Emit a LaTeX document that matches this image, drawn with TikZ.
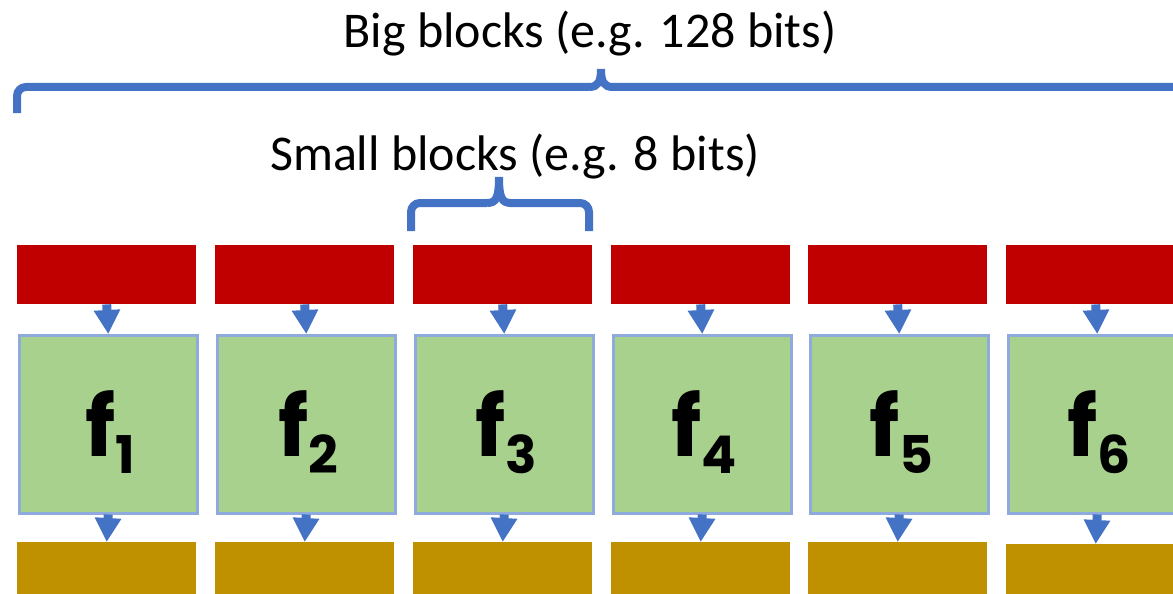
\documentclass[tikz,border=0pt]{standalone}
\usepackage{fontspec}
\setmainfont{Carlito}
\newfontfamily\ffont{Poppins}
\usetikzlibrary{arrows.meta}
\definecolor{bbrace}{HTML}{4472C4}
\definecolor{redbox}{HTML}{C00000}
\definecolor{greenbox}{HTML}{A9D18E}
\definecolor{greenline}{HTML}{8FAADC}
\definecolor{goldbox}{HTML}{BF9000}
\tikzset{
  redblk/.style={rectangle, fill=redbox, inner sep=0pt, minimum width=179pt, minimum height=59pt, anchor=north west},
  fblk/.style={rectangle, fill=greenbox, draw=greenline, line width=2.5pt, inner sep=0pt, minimum width=178pt, minimum height=178pt, anchor=north west},
  goldblk/.style={rectangle, fill=goldbox, inner sep=0pt, minimum width=179pt, minimum height=60pt, anchor=north west},
  flow/.style={draw=bbrace, line width=9pt, -{Triangle[width=25pt,length=24pt]}, shorten >=0pt},
  brace/.style={draw=bbrace, line width=8pt},
  lbl/.style={font=\fontsize{50}{60}\selectfont, inner sep=0pt, anchor=base}
}
\newcommand{\fsub}[1]{{\ffont\bfseries\fontsize{84}{84}\selectfont f}{\ffont\bfseries\fontsize{52}{52}\selectfont\raisebox{-17pt}{#1}}}
\begin{document}
\begin{tikzpicture}[x=1pt,y=-1pt]
\useasboundingbox (0,0) rectangle (1173,594);
\clip (0,0) rectangle (1173,594);
% labels
\node[lbl] (big) at (590,48) {Big blocks (e.g. 128 bits)};
\node[lbl] (small) at (515,170) {Small blocks (e.g. 8 bits)};
% big brace
\coordinate (bl) at (17,113);
\coordinate (bt) at (601,69);
\coordinate (br) at (1200,87);
\draw[brace, rounded corners=9pt] (bl) |- (589,87);
\draw[brace] (589,87) .. controls (598,87) and (601,82) .. (bt) .. controls (601,82) and (604,87) .. (613,87) -- (br);
% small brace
\coordinate (sl) at (411,231);
\coordinate (st) at (499,177);
\coordinate (sr) at (589,231);
\draw[brace, rounded corners=9pt] (sl) |- (487,203);
\draw[brace] (487,203) .. controls (496,203) and (499,198) .. (st) .. controls (499,198) and (502,203) .. (511,203);
\draw[brace, rounded corners=9pt] (510,203) -| (sr);
% blocks
\foreach \i/\x/\gy in {1/17/542, 2/215/542, 3/413/542, 4/611/542, 5/808/542, 6/1006/544} {
  \node[redblk] (r\i) at (\x,245) {};
  \node[fblk] (g\i) at (\x+1,334) {};
  \node[goldblk] (o\i) at (\x,\gy) {};
  \node at ([xshift=2pt,yshift=-8pt]g\i.center) {\fsub{\i}};
  \draw[flow] (r\i.south) -- (g\i.north);
  \draw[flow] (g\i.south) -- (o\i.north);
}
\end{tikzpicture}
\end{document}
